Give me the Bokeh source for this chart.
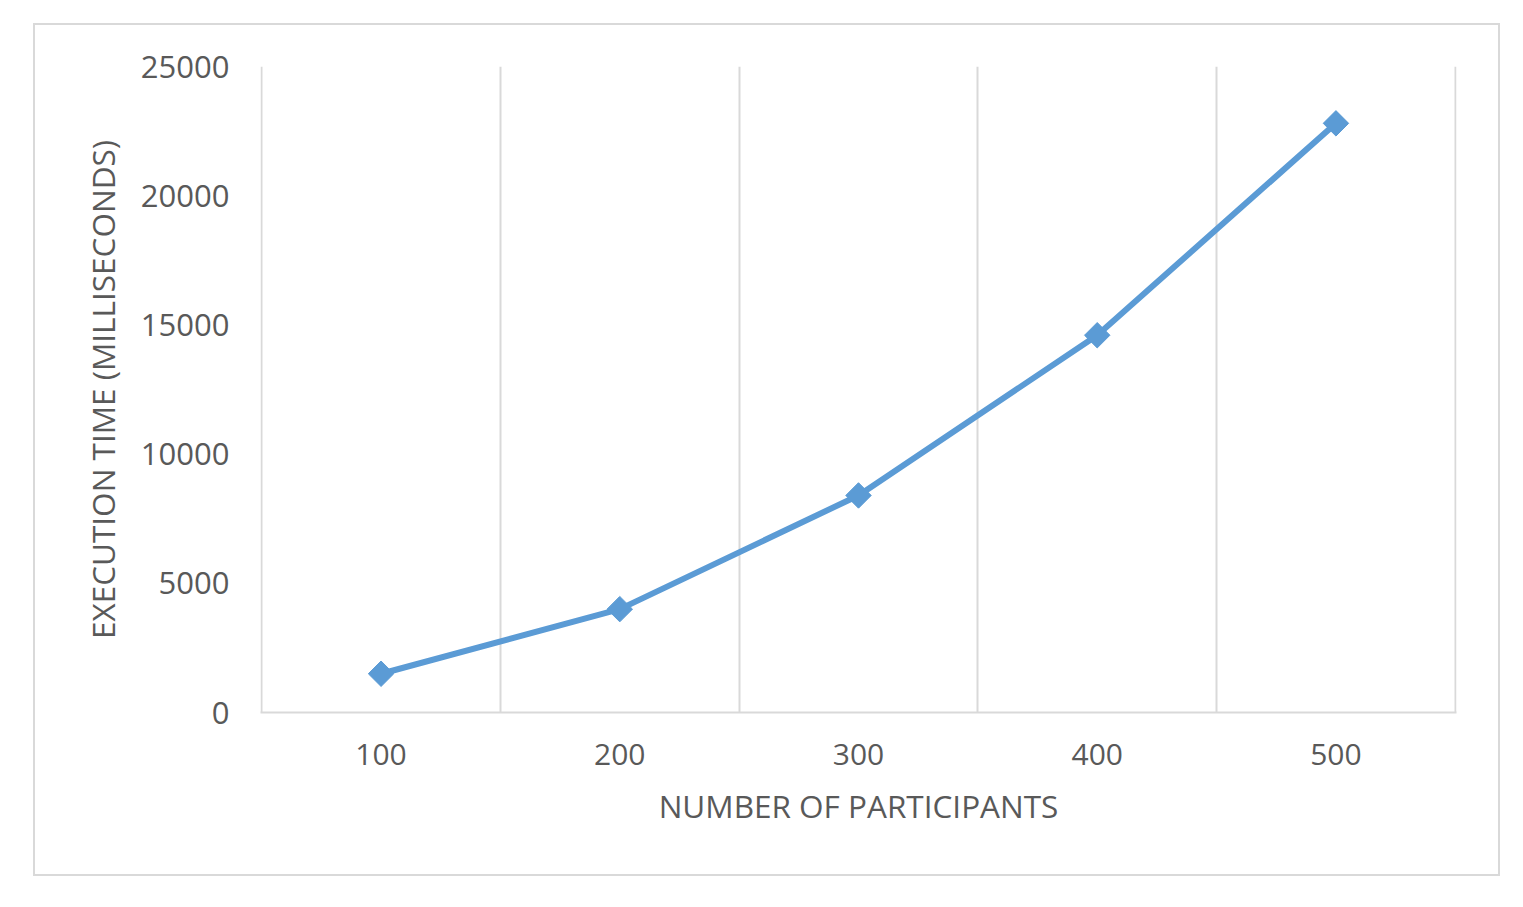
import math
from bokeh.plotting import figure
from bokeh.models import FixedTicker, Range1d
from bokeh.embed import file_html
from bokeh.resources import INLINE

participants = [100, 200, 300, 400, 500]
exec_time_ms = [1500, 4000, 8400, 14600, 22800]
y_ticks = [0, 5000, 10000, 15000, 20000, 25000]
x_label = "NUMBER OF PARTICIPANTS"
y_label = "EXECUTION TIME (MILLISECONDS)"

step = participants[1] - participants[0]
grid_positions = [v - step / 2 for v in participants] + [participants[-1] + step / 2]
edge_pad = step * 0.005  # keeps the outer category boundary lines inside the frame

LINE = "#5b9bd5"
GRID = "#d9d9d9"
TEXT = "#595959"
FONT = "Open Sans"

p = figure(width=1467, height=853, output_backend="svg", toolbar_location=None,
           x_range=Range1d(grid_positions[0] - edge_pad, grid_positions[-1] + edge_pad),
           y_range=Range1d(y_ticks[0], y_ticks[-1]),
           min_border_left=225, min_border_right=46, min_border_top=41, min_border_bottom=166)
p.margin = (23, 0, 0, 33)
p.styles = {"border": "2px solid #d9d9d9", "box-sizing": "border-box"}
p.outline_line_color = None
p.background_fill_color = "white"
p.border_fill_color = "white"

p.line(participants, exec_time_ms, line_color=LINE, line_width=6)
p.scatter(participants, exec_time_ms, marker="square", angle=math.pi / 4, size=18,
          fill_color=LINE, line_color=LINE, line_width=1)

# x axis
xa = p.xaxis[0]
xa.ticker = FixedTicker(ticks=participants)
xa.axis_line_color = GRID
xa.axis_line_width = 2
xa.major_tick_line_color = None
xa.minor_tick_line_color = None
xa.major_label_text_font = FONT
xa.major_label_text_font_size = "30px"
xa.major_label_text_color = TEXT
xa.major_label_standoff = 25
xa.axis_label = x_label
xa.axis_label_text_font = FONT
xa.axis_label_text_font_size = "31.5px"
xa.axis_label_text_font_style = "normal"
xa.axis_label_text_color = TEXT
xa.axis_label_standoff = 16

# y axis
ya = p.yaxis[0]
ya.ticker = FixedTicker(ticks=y_ticks)
ya.axis_line_color = None
ya.major_tick_line_color = None
ya.minor_tick_line_color = None
ya.major_label_text_font = FONT
ya.major_label_text_font_size = "31px"
ya.major_label_text_color = TEXT
ya.major_label_standoff = 25
ya.axis_label = y_label
ya.axis_label_text_font = FONT
ya.axis_label_text_font_size = "31.5px"
ya.axis_label_text_font_style = "normal"
ya.axis_label_text_color = TEXT
ya.axis_label_standoff = 14

# grids
p.xgrid.ticker = FixedTicker(ticks=grid_positions)
p.xgrid.grid_line_color = GRID
p.xgrid.grid_line_width = 2
p.ygrid.grid_line_color = None

open("out.html", "w").write(file_html(p, INLINE))
